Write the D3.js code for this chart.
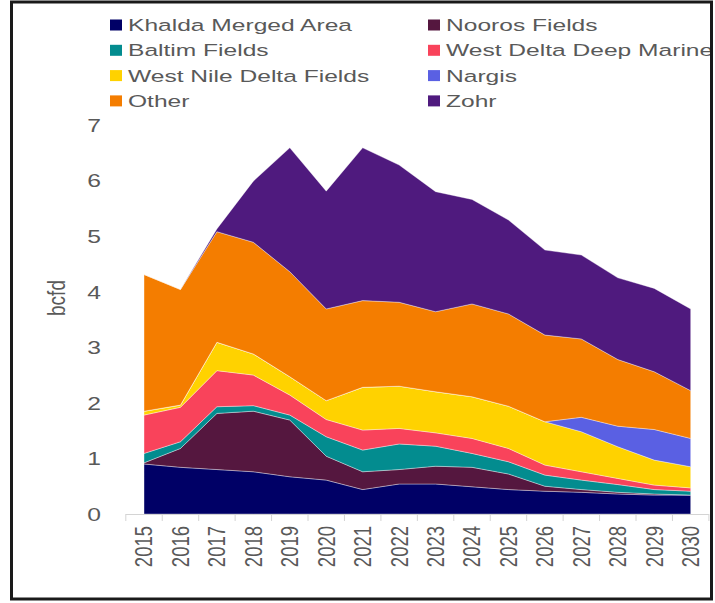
<!DOCTYPE html>
<html lang="en">
  <head>
    <meta charset="utf-8">
    <script src="https://d3js.org/d3.v7.min.js"></script>
    <style>
    body { margin: 0; background: #fff; }
    text { font-family: "Liberation Sans", Arial, sans-serif; fill: #595959; }
    </style>
  </head>
  <body>
    <div id="place"></div>
    <script type="text/javascript">
    // values, bcfd
    const years  = [2015,2016,2017,2018,2019,2020,2021,2022,2023,2024,2025,2026,2027,2028,2029,2030];
    const khalda = [0.90,0.84,0.80,0.76,0.67,0.61,0.44,0.54,0.54,0.49,0.44,0.41,0.39,0.36,0.34,0.34];
    const nooros = [0.02,0.34,1.01,1.09,1.02,0.43,0.32,0.26,0.32,0.35,0.28,0.09,0.05,0.03,0.02,0.00];
    const baltim = [0.17,0.12,0.12,0.10,0.09,0.35,0.39,0.46,0.36,0.25,0.22,0.20,0.17,0.14,0.08,0.07];
    const wddm   = [0.69,0.62,0.65,0.55,0.36,0.31,0.36,0.28,0.24,0.27,0.24,0.18,0.15,0.11,0.08,0.06];
    const wnd    = [0.07,0.04,0.51,0.38,0.33,0.34,0.77,0.76,0.74,0.75,0.76,0.78,0.72,0.57,0.45,0.38];
    const nargis = [0,0,0,0,0,0,0,0,0,0,0,0,0.26,0.37,0.55,0.51];
    const other  = [2.46,2.08,1.99,2.01,1.89,1.65,1.56,1.51,1.44,1.67,1.66,1.56,1.41,1.20,1.04,0.86];
    const zohr   = [0,0,0.05,1.10,2.23,2.12,2.75,2.47,2.16,1.88,1.69,1.53,1.51,1.47,1.50,1.47];
    const yTicks = [0,1,2,3,4,5,6,7];

    const series = [
      { key: "khalda", name: "Khalda Merged Area", values: khalda, color: "#000066" },
      { key: "nooros", name: "Nooros Fields", values: nooros, color: "#55173f" },
      { key: "baltim", name: "Baltim Fields", values: baltim, color: "#038c8f" },
      { key: "wddm", name: "West Delta Deep Marine", values: wddm, color: "#f9435b" },
      { key: "wnd", name: "West Nile Delta Fields", values: wnd, color: "#ffd200" },
      { key: "nargis", name: "Nargis", values: nargis, color: "#5a60e3" },
      { key: "other", name: "Other", values: other, color: "#f47d00" },
      { key: "zohr", name: "Zohr", values: zohr, color: "#4f1a7e" }
    ];

    var width = 715;
    var height = 603;
    var sx = 1.3;   // the picture is stretched sideways

    var svg = d3.select('#place').append('svg')
      .attr('width', width)
      .attr('height', height);

    // rows for the stack
    const rows = years.map((yr, i) => {
      const r = { year: yr };
      series.forEach(s => r[s.key] = s.values[i]);
      return r;
    });
    const stacked = d3.stack().keys(series.map(s => s.key))(rows);

    const xScale = d3.scaleBand()
      .domain(years)
      .range([125.8, 708.9])
      .padding(0);
    const xMid = d => xScale(d) + xScale.bandwidth() / 2;

    const yScale = d3.scaleLinear()
      .domain([0, 7])
      .range([514, 125]);

    const area = d3.area()
      .x(d => xMid(d.data.year))
      .y0(d => yScale(d[0]))
      .y1(d => yScale(d[1]));

    svg.append('g').selectAll('path')
      .data(stacked)
      .enter().append('path')
      .attr('fill', (d, i) => series[i].color)
      .attr('stroke', 'rgba(255,255,255,0.45)')
      .attr('stroke-width', 0.8)
      .attr('stroke-linejoin', 'round')
      .attr('d', area);

    // x axis: band boundaries as ticks
    const xAxis = svg.append('g');
    xAxis.append('line')
      .attr('x1', xScale.range()[0]).attr('x2', xScale.range()[1])
      .attr('y1', yScale(0) + 0.5).attr('y2', yScale(0) + 0.5)
      .attr('stroke', '#d4d4d4');
    xAxis.selectAll('.tk')
      .data(years.concat(['end']))
      .enter().append('line')
      .attr('x1', d => d === 'end' ? xScale.range()[1] : xScale(d))
      .attr('x2', d => d === 'end' ? xScale.range()[1] : xScale(d))
      .attr('y1', yScale(0))
      .attr('y2', yScale(0) + 7)
      .attr('stroke', '#d4d4d4');
    xAxis.selectAll('text')
      .data(years)
      .enter().append('text')
      .attr('transform', d => `translate(${xMid(d)},${yScale(0) + 12}) rotate(-90) scale(1,${sx})`)
      .attr('dy', '0.35em')
      .attr('text-anchor', 'end')
      .style('font-size', '18.5px')
      .text(d => d);

    // y axis labels, no line
    svg.append('g').selectAll('text')
      .data(yTicks)
      .enter().append('text')
      .attr('transform', d => `translate(101,${yScale(d)}) scale(${sx},1)`)
      .attr('dy', '0.36em')
      .attr('text-anchor', 'end')
      .style('font-size', '19px')
      .text(d => d);

    svg.append('text')
      .attr('transform', `translate(56,298) rotate(-90) scale(1,${sx})`)
      .attr('dy', '0.35em')
      .attr('text-anchor', 'middle')
      .style('font-size', '19px')
      .text('bcfd');

    // legend, two columns
    const legend = svg.append('g').selectAll('g')
      .data(series)
      .enter().append('g')
      .attr('transform', (d, i) => `translate(${i % 2 ? 428 : 110},${25 + Math.floor(i / 2) * 25.3})`);
    legend.append('rect')
      .attr('x', 0).attr('y', -5.5)
      .attr('width', 12).attr('height', 11)
      .attr('fill', d => d.color);
    legend.append('text')
      .attr('transform', `translate(18,0) scale(1.49,1)`)
      .attr('dy', '0.36em')
      .style('font-size', '16.5px')
      .text(d => d.name);

    // frame
    svg.append('rect')
      .attr('x', 11.5).attr('y', 2)
      .attr('width', 700).attr('height', 597)
      .attr('fill', 'none')
      .attr('stroke', '#1a1a1a')
      .attr('stroke-width', 3);
    </script>
  </body>
</html>
